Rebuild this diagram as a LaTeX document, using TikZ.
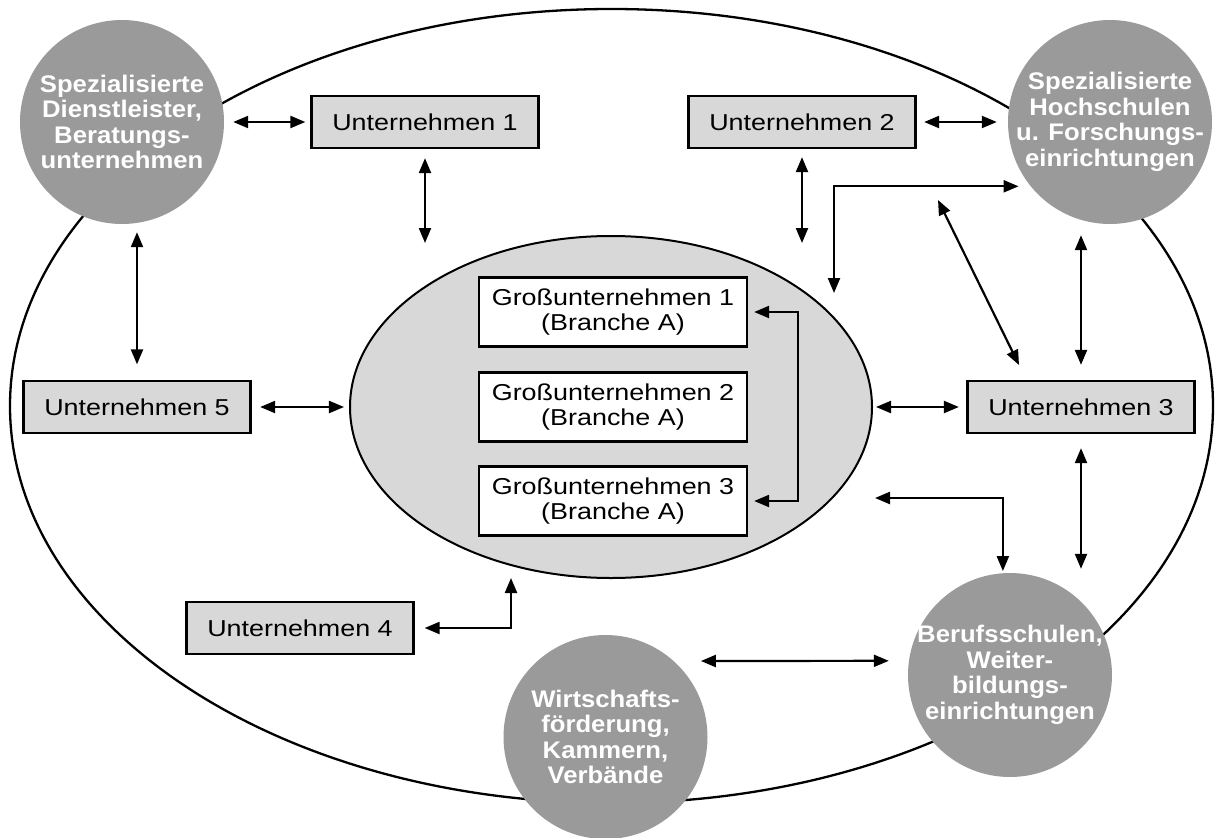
\documentclass[tikz,border=0pt]{standalone}
\usepackage{fontspec}
\setmainfont{Liberation Sans}
\newfontfamily\regf{Liberation Sans}[FakeStretch=1.17]
\newfontfamily\boldf{Liberation Sans}[FakeStretch=1.07]
\usetikzlibrary{arrows.meta,shapes.geometric}
\definecolor{circgray}{HTML}{9A9A9A}
\definecolor{boxgray}{HTML}{D8D8D8}
\begin{document}
\begin{tikzpicture}[x=1bp,y=-1bp,
  >={Triangle[length=15bp,width=12bp]},
  conn/.style={<->, line width=2.2bp},
  unt/.style={draw, line width=2.3bp, fill=boxgray, minimum width=227bp, minimum height=52bp, inner sep=0pt, font=\regf\fontsize{23bp}{25bp}\selectfont},
  gross/.style={draw, line width=2.3bp, fill=white, minimum width=268bp, minimum height=69bp, inner sep=0pt, align=center, font=\regf\fontsize{23bp}{25bp}\selectfont},
  actor/.style={circle, fill=circgray, minimum size=204bp, inner sep=-8bp, text=white, align=center, font=\boldf\bfseries\fontsize{24bp}{25.5bp}\selectfont},
]
\useasboundingbox (0,0) rectangle (1216,838);
% outer and inner ellipses
\node[ellipse, draw, line width=2.3bp, minimum width=1203bp, minimum height=794bp, inner sep=0pt] (outer) at (611.5,406) {};
\node[ellipse, draw, line width=2bp, fill=boxgray, minimum width=522bp, minimum height=342bp, inner sep=0pt] (inner) at (611,407) {};
% large companies
\node[gross] (g1) at (613,312) {Großunternehmen 1\\(Branche A)};
\node[gross] (g2) at (613,407) {Großunternehmen 2\\(Branche A)};
\node[gross] (g3) at (613,501) {Großunternehmen 3\\(Branche A)};
% companies
\node[unt] (u1) at (425,122) {Unternehmen 1};
\node[unt] (u2) at (802,122) {Unternehmen 2};
\node[unt] (u3) at (1081,407) {Unternehmen 3};
\node[unt] (u4) at (300,628) {Unternehmen 4};
\node[unt] (u5) at (137,407) {Unternehmen 5};
% actors
\node[actor] (tl) at (122,122) {Spezialisierte\\Dienstleister,\\Beratungs-\\unternehmen};
\node[actor] (tr) at (1110,122) {Spezialisierte\\Hochschulen\\u. Forschungs-\\einrichtungen};
\node[actor] (br) at (1010,675) {Berufsschulen,\\Weiter-\\bildungs-\\einrichtungen};
\node[actor] (wf) at (605.5,737) {Wirtschafts-\\förderung,\\Kammern,\\Verbände};
% free ends
\coordinate (a1) at (425,243);
\coordinate (a2) at (802,243);
\coordinate (e7) at (834,293);
\coordinate (d1) at (938,200);
\coordinate (d2) at (1019,365);
\coordinate (e13) at (875,498);
\coordinate (e15) at (511,578);
% connectors
\draw[conn, shorten <=9bp, shorten >=5bp] (tl.east) -- (u1.west);
\draw[conn, shorten <=9bp] (u1.south) -- (a1);
\draw[conn, shorten <=7.5bp, shorten >=11bp] (u2.east) -- (tr.west);
\draw[conn, shorten <=8bp] (u2.south) -- (a2);
\draw[conn, shorten <=8bp, shorten >=15.5bp] (tl.south -| u5.north) -- (u5.north);
\draw[conn, shorten <=8.5bp, shorten >=5bp] (u5.east) -- (inner.west);
\draw[conn, shorten >=12bp] (e7) |- (tr.219.6);
\draw[conn] (d1) -- (d2);
\draw[conn, shorten <=15bp, shorten >=11bp] (u3.north) -- (u3.north |- tr.south);
\draw[conn, shorten <=3bp, shorten >=7.5bp] (inner.east) -- (u3.west);
\draw[conn, shorten <=14bp, shorten >=4bp] (u3.south) -- (u3.south |- br.north);
\draw[conn, shorten <=6bp, shorten >=6bp] (g1.east) -- ++(50,0) |- (g3.east);
\draw[conn, shorten >=2bp] (e13) -| (br.94);
\draw[conn, shorten <=27bp, shorten >=20bp] (wf.48.2) -- (br.172.1);
\draw[conn, shorten <=10bp] (u4.east) -| (e15);
\end{tikzpicture}
\end{document}
